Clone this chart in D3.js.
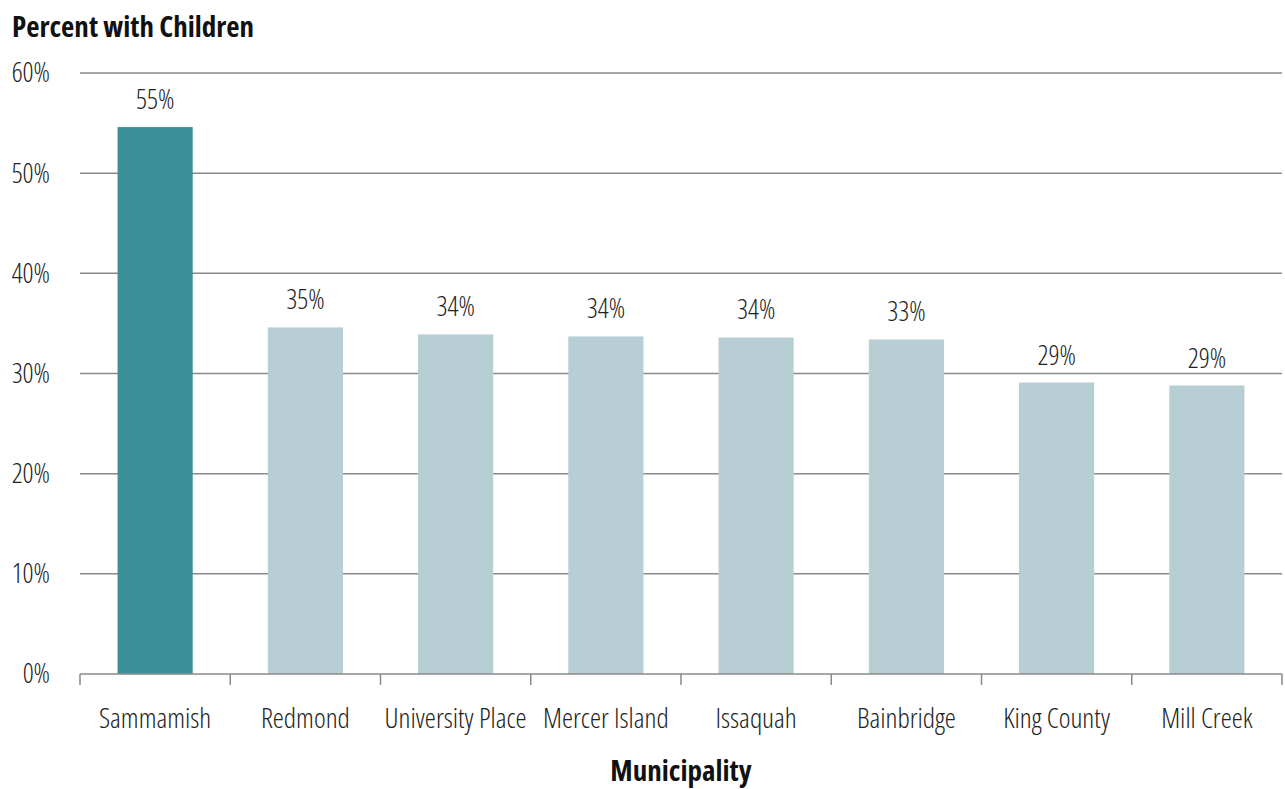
<!DOCTYPE html>
<html><head><meta charset="utf-8">
<script src="https://cdn.jsdelivr.net/npm/d3@7"></script>
<style>
body{margin:0;background:#fff;}
text{font-family:"Open Sans",sans-serif;font-stretch:condensed;}
</style></head>
<body><svg id="c" width="1285" height="789"></svg>
<script>
const categories = ["Sammamish","Redmond","University Place","Mercer Island","Issaquah","Bainbridge","King County","Mill Creek"];
const values = [54.6, 34.6, 33.9, 33.7, 33.6, 33.4, 29.1, 28.8];
const highlight = ["Sammamish"];
const yTicks = [0,10,20,30,40,50,60];

const svg = d3.select("#c");
const m = {l:80, r:3, t:73, b:115};
const W = 1285, H = 789;
const x = d3.scaleBand().domain(categories).range([m.l, W-m.r]).paddingInner(0.5).paddingOuter(0.25);
const y = d3.scaleLinear().domain([0,60]).range([H-m.b, m.t]);
const fs = 27;

// gridlines
svg.append("g").selectAll("line").data(yTicks.filter(d=>d>0)).join("line")
  .attr("x1", m.l).attr("x2", W-m.r)
  .attr("y1", d=>y(d)).attr("y2", d=>y(d))
  .attr("stroke","#8a8a8a").attr("stroke-width",1.5);

// y labels
svg.append("g").selectAll("text").data(yTicks).join("text")
  .attr("x", 50).attr("y", d=>y(d)).attr("dy","0.35em")
  .attr("text-anchor","end").attr("font-size",fs).attr("font-weight",300).attr("fill","#222")
  .text(d=>d+"%");

// bars
svg.append("g").selectAll("rect").data(categories).join("rect")
  .attr("x", d=>x(d)).attr("width", x.bandwidth())
  .attr("y", (d,i)=>y(values[i])).attr("height",(d,i)=>y(0)-y(values[i]))
  .attr("fill", d=>highlight.includes(d) ? "#3b8f98" : "#b7ced4");

// value labels
svg.append("g").selectAll("text").data(categories).join("text")
  .attr("x", d=>x(d)+x.bandwidth()/2).attr("y",(d,i)=>y(values[i])-18)
  .attr("text-anchor","middle").attr("font-size",fs).attr("font-weight",300).attr("fill","#222")
  .text((d,i)=>Math.round(values[i])+"%");

// x axis line and ticks
const bounds = d3.range(categories.length+1).map(i=>m.l + i*(W-m.r-m.l)/categories.length);
svg.append("line").attr("x1",m.l).attr("x2",W-m.r).attr("y1",y(0)).attr("y2",y(0))
  .attr("stroke","#8a8a8a").attr("stroke-width",1.5);
svg.append("g").selectAll("line").data(bounds).join("line")
  .attr("x1",d=>d).attr("x2",d=>d).attr("y1",y(0)).attr("y2",y(0)+11)
  .attr("stroke","#8a8a8a").attr("stroke-width",1.5);

// category labels
svg.append("g").selectAll("text").data(categories).join("text")
  .attr("x", d=>x(d)+x.bandwidth()/2).attr("y", 718).attr("dy","0.35em")
  .attr("text-anchor","middle").attr("font-size",28).attr("font-weight",300).attr("fill","#222")
  .text(d=>d);

// titles
svg.append("text").attr("x",12).attr("y",27).attr("dy","0.35em")
  .attr("font-size",29).attr("font-weight","bold").attr("fill","#111")
  .text("Percent with Children");
svg.append("text").attr("x",(m.l+W-m.r)/2).attr("y",771).attr("dy","0.35em")
  .attr("text-anchor","middle").attr("font-size",29).attr("font-weight","bold").attr("fill","#111")
  .text("Municipality");
</script></body></html>
